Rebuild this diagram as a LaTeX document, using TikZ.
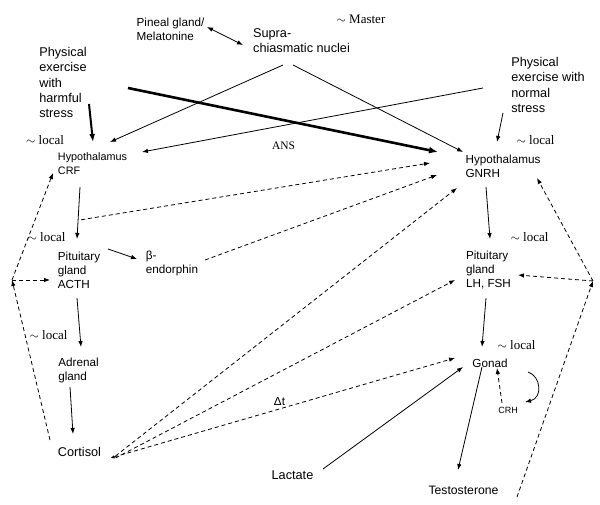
\documentclass[tikz,border=0pt]{standalone}
\usepackage{fontspec}
\setmainfont{Liberation Sans}
\newfontfamily\labelserif{Liberation Serif}
\usetikzlibrary{arrows.meta}
\tikzset{
  >={Latex[length=6pt,width=4.5pt]},
  organ/.style={align=left,inner sep=0pt,font=\fontsize{12.7}{15.3}\selectfont},
  organ_m/.style={organ,font=\fontsize{11.7}{14}\selectfont},
  organ_s/.style={organ,font=\fontsize{10.8}{14}\selectfont},
  organ_xs/.style={organ,font=\fontsize{9}{11}\selectfont},
  rhythm/.style={inner sep=0pt,font=\labelserif\fontsize{13}{15}\selectfont},
  link/.style={line width=0.8pt,->},
  link_thick/.style={line width=2.6pt,-{Latex[length=9pt,width=7pt]}},
  link_med/.style={line width=2pt,-{Latex[length=8pt,width=6pt]}},
  feedback/.style={link,dash pattern=on 4pt off 3pt},
}

\begin{document}
\begin{tikzpicture}[x=1pt,y=-1pt]
  \useasboundingbox (0,0) rectangle (600,505);
  \node[organ_m] (pineal) at (170.5,29) {Pineal gland/\\Melatonine};
  \node[organ] (supra) at (301.5,40.5) {Supra-\\chiasmatic nuclei};
  \node[rhythm] (master) at (361,19) {$\sim$ Master};
  \node[organ] (harmful) at (63,82.5) {Physical\\exercise\\with\\harmful\\stress};
  \node[organ] (normal) at (548,85) {Physical\\exercise with\\normal\\stress};
  \node[rhythm] (loc_crf) at (45,140) {$\sim$ local};
  \node[organ_s] (crf) at (92.5,164) {Hypothalamus\\CRF};
  \node[rhythm,font=\labelserif\fontsize{11.5}{13}\selectfont] (ans) at (283.5,146) {ANS};
  \node[organ_m] (gnrh) at (503,166) {Hypothalamus\\GNRH};
  \node[rhythm] (loc_gnrh) at (535.5,140) {$\sim$ local};
  \node[rhythm] (loc_acth) at (46.5,237) {$\sim$ local};
  \node[organ_m] (acth) at (79,270) {Pituitary\\gland\\ACTH};
  \node[organ_m] (bend) at (172,263) {β-\\endorphin};
  \node[rhythm] (loc_lh) at (529.5,237) {$\sim$ local};
  \node[organ_m] (lhfsh) at (488.5,270) {Pituitary\\gland\\LH, FSH};
  \node[rhythm] (loc_adr) at (48.5,335) {$\sim$ local};
  \node[organ_m] (adrenal) at (78.5,370) {Adrenal\\gland};
  \node[rhythm] (loc_gon) at (516.5,345) {$\sim$ local};
  \node[organ_m] (gonad) at (490,363) {Gonad};
  \node[organ_m] (dt) at (279.5,402) {Δt};
  \node[organ_xs] (crh) at (508,410) {CRH};
  \node[organ] (cortisol) at (79.5,452) {Cortisol};
  \node[organ] (lactate) at (292.5,475) {Lactate};
  \node[organ,font=\fontsize{12.2}{14}\selectfont] (testo) at (463.5,490) {Testosterone};
  \coordinate (left_fb) at (12,280);
  \coordinate (right_fb) at (593,281);

  \draw[link,<->] ([shift={(36.5,-2)}]pineal.center) -- ([shift={(-58.5,4.5)}]supra.center);
  \draw ([shift={(-18.5,24.5)}]supra.center) edge[link] ([shift={(17.5,-22)}]crf.center);
  \draw ([shift={(-8.5,24.5)}]supra.center) edge[link] ([shift={(-40,-14)}]gnrh.center);
  \draw ([shift={(65,5.5)}]harmful.center) edge[link_thick] ([shift={(-65,-14)}]gnrh.center);
  \draw ([shift={(-65,3)}]normal.center) edge[link] ([shift={(49.5,-12)}]crf.center);
  \draw ([shift={(26,21.5)}]harmful.center) edge[link_med] ([shift={(0.5,-22)}]crf.center);
  \draw ([shift={(-45,28)}]normal.center) edge[link] ([shift={(-6,-24)}]gnrh.center);

  \draw[link] ([shift={(-12.5,23)}]crf.center) -- coordinate[pos=0.63] (crf_out) ([shift={(-2,-31)}]acth.center);
  \draw ([xshift=3pt]crf_out) edge[feedback] ([shift={(-73,-3)}]gnrh.center);
  \draw ([shift={(33,-3)}]bend.center) edge[feedback] ([shift={(-66,9)}]gnrh.center);
  \draw ([shift={(29,-21)}]acth.center) edge[link] ([shift={(-35,-4)}]bend.center);
  \draw ([shift={(-2,28)}]acth.center) edge[link] ([shift={(2.5,-23)}]adrenal.center);
  \draw ([shift={(-8.5,17)}]adrenal.center) edge[link] ([shift={(-6.5,-18)}]cortisol.center);

  \draw ([shift={(36,4)}]cortisol.center) edge[feedback] ([shift={(-46,22)}]gnrh.center);
  \draw ([shift={(36,6)}]cortisol.center) edge[feedback] ([shift={(-33.5,10)}]lhfsh.center);
  \draw[feedback,{Latex[length=4pt,width=3.5pt]}-{Latex[length=6pt,width=4.5pt]}] ([shift={(31,6)}]cortisol.center) -- ([shift={(-35,-5)}]gonad.center);

  \draw ([shift={(-29.5,-12)}]cortisol.center) edge[feedback] (left_fb);
  \draw (left_fb) edge[feedback] ([shift={(-39.5,9)}]crf.center);
  \draw (left_fb) edge[feedback] ([shift={(-29,10)}]acth.center);

  \draw ([shift={(-17,21)}]gnrh.center) edge[link] ([shift={(1.5,-31)}]lhfsh.center);
  \draw ([shift={(-2.5,28)}]lhfsh.center) edge[link] ([shift={(-8,-16)}]gonad.center);
  \draw ([shift={(-8,4)}]gonad.center) edge[link] ([shift={(-5.5,-20)}]testo.center);
  \draw ([shift={(30.5,-6)}]lactate.center) edge[link] ([shift={(-27,4)}]gonad.center);
  \draw ([shift={(-6,-7)}]crh.center) edge[feedback] ([shift={(7,5)}]gonad.center);
  \draw[link] ([shift={(20,-38)}]crh.center) .. controls ([shift={(33,-34)}]crh.center) and ([shift={(35,-12)}]crh.center) .. ([shift={(17,-8)}]crh.center);

  \draw ([shift={(53.5,7)}]testo.center) edge[feedback] (right_fb);
  \draw (right_fb) edge[feedback] ([shift={(34,12)}]gnrh.center);
  \draw (right_fb) edge[feedback] ([shift={(29.5,5)}]lhfsh.center);
\end{tikzpicture}
\end{document}
